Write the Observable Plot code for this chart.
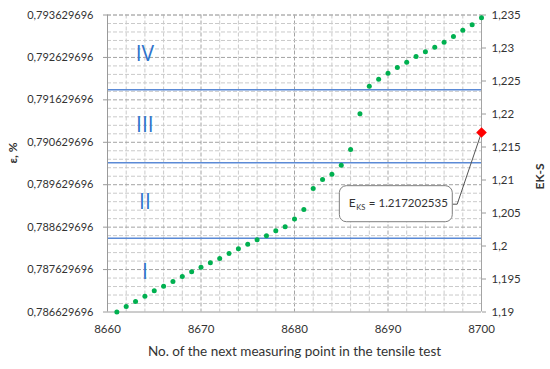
<!DOCTYPE html>
<html>
<head>
<meta charset="utf-8">
<script src="https://cdn.jsdelivr.net/npm/d3@7"></script>
<script src="https://cdn.jsdelivr.net/npm/@observablehq/plot@0.6"></script>
<style>
  html, body { margin: 0; padding: 0; background: #fff; }
  #chart { width: 550px; height: 369px; }
  svg { font-family: Lato, "Liberation Sans", sans-serif; }
</style>
</head>
<body>
<div id="chart"></div>
<script>
// ---- data ----
const points = [8661,8662,8663,8664,8665,8666,8667,8668,8669,8670,
                8671,8672,8673,8674,8675,8676,8677,8678,8679,8680,
                8681,8682,8683,8684,8685,8686,8687,8688,8689,8690,
                8691,8692,8693,8694,8695,8696,8697,8698,8699,8700];
const epsilon = [0.786630,0.786759,0.786877,0.787002,0.787129,0.787238,0.787348,0.787466,0.787577,0.787685,
                 0.787789,0.787891,0.788008,0.788119,0.788228,0.788331,0.788426,0.788543,0.788638,0.788821,
                 0.789045,0.789540,0.789752,0.789877,0.790089,0.790459,0.791301,0.791951,0.792116,0.792258,
                 0.792392,0.792517,0.792651,0.792762,0.792870,0.792988,0.793123,0.793271,0.793398,0.793564];
const leftTicks = [0.786629696,0.787629696,0.788629696,0.789629696,0.790629696,0.791629696,0.792629696,0.793629696];
const rightTicks = [1.19,1.195,1.2,1.205,1.21,1.215,1.22,1.225,1.23,1.235];
const xTicks = [8660,8670,8680,8690,8700];
const zoneBounds = [0.788369,0.790146,0.791867];
const zoneLabels = ["I","II","III","IV"];
const zoneLabelY = [0.787568,0.789218,0.791025,0.792699];
const zoneLabelX = 8664;
const eksPoint = 8700;
const eksValue = 1.217202535;
const xLabel = "No. of the next measuring point in the tensile test";
const yLeftLabel = "ε, %";
const yRightLabel = "EK-S";

// ---- the right axis shares the frame with the left axis ----
const L0 = leftTicks[0], L1 = leftTicks[leftTicks.length - 1];
const R0 = rightTicks[0], R1 = rightTicks[rightTicks.length - 1];
const toLeft = r => L0 + (r - R0) / (R1 - R0) * (L1 - L0);
const fromLeft = l => R0 + (l - L0) / (L1 - L0) * (R1 - R0);
const commaFmt = (v, digits) => (+v.toFixed(digits)).toString().replace(".", ",");

const data = points.map((p, i) => ({x: p, y: epsilon[i]}));
const eksY = toLeft(eksValue);

// grid lines
const gridXMinor = d3.range(8662, 8700, 2).filter(v => v % 10 !== 0);
const gridXMajor = xTicks.slice(1, -1);
const gridYAll = d3.range(1, 36).map(i => L0 + i * 0.0002);
const gridYMajor = gridYAll.filter((v, i) => (i + 1) % 5 === 0);
const gridYMinor = gridYAll.filter((v, i) => (i + 1) % 5 !== 0);

// callout box (data coordinates)
const box = {x1: 8684.85, x2: 8696.93, y1: 0.788746, y2: 0.789595};
const boxMidY = (box.y1 + box.y2) / 2;
const leader = [{x: box.x2, y: boxMidY}, {x: 8697.4, y: boxMidY}, {x: eksPoint, y: eksY}];

const blue = "#5b8ad6";
const plot = Plot.plot({
  width: 550,
  height: 369,
  marginLeft: 107,
  marginRight: 69,
  marginTop: 14.5,
  marginBottom: 57.5,
  style: {fontFamily: "Lato, 'Liberation Sans', sans-serif", fontSize: "11px", color: "#333", background: "#fff"},
  x: {domain: [8660, 8700], axis: null},
  y: {domain: [L0, L1], axis: null},
  marks: [
    Plot.ruleX(gridXMinor, {stroke: "#cacaca", strokeDasharray: "4,2", strokeWidth: 1}),
    Plot.ruleX(gridXMajor, {stroke: "#a4a4a4", strokeDasharray: "4,2", strokeWidth: 1}),
    Plot.ruleY(gridYMinor, {stroke: "#cacaca", strokeDasharray: "4,2", strokeWidth: 1}),
    Plot.ruleY(gridYMajor, {stroke: "#a4a4a4", strokeDasharray: "4,2", strokeWidth: 1}),
    Plot.ruleY([L1], {stroke: "#b8b8b8", strokeDasharray: "4,2"}),
    Plot.ruleX([8700], {stroke: "#a4a4a4"}),
    Plot.ruleY(zoneBounds, {stroke: blue, strokeWidth: 1.4}),
    Plot.ruleX([8660], {stroke: "#9a9a9a"}),
    Plot.ruleY([L0], {stroke: "#9a9a9a"}),
    Plot.axisX(xTicks, {anchor: "bottom", tickSize: 0, tickPadding: 13, fontSize: 11.5, label: null, tickFormat: d => String(d)}),
    Plot.axisY(leftTicks, {anchor: "left", tickSize: 4, tickPadding: 10, fontSize: 11, label: null, stroke: "#9a9a9a",
      tickFormat: d => d.toFixed(9).replace(".", ",")}),
    Plot.axisY(rightTicks.map(toLeft), {anchor: "right", tickSize: 4, tickPadding: 6, fontSize: 11.5, label: null, stroke: "#9a9a9a",
      tickFormat: d => commaFmt(fromLeft(d), 3)}),
    Plot.text(zoneLabels, {x: () => zoneLabelX, y: (d, i) => zoneLabelY[i], text: d => d, fill: "#2e73cc", fontSize: 21, fontWeight: "normal", fontFamily: "'Open Sans', Lato, sans-serif"}),
    Plot.dot(data, {x: "x", y: "y", r: 2.5, fill: "#00b050", stroke: "none"}),
    Plot.line(leader, {x: "x", y: "y", stroke: "#555", strokeWidth: 1, curve: "linear"}),
    Plot.rect([box], {x1: "x1", x2: "x2", y1: "y1", y2: "y2", fill: "white", stroke: "#7f7f7f", strokeWidth: 1, rx: 7}),
    Plot.text(["E"], {x: () => box.x1, y: () => boxMidY, textAnchor: "start", dx: 9, dy: -1, fontSize: 12, fill: "#333"}),
    Plot.text(["KS"], {x: () => box.x1, y: () => boxMidY, textAnchor: "start", dx: 16.5, dy: 3, fontSize: 7.5, fill: "#333"}),
    Plot.text(["= 1.217202535"], {x: () => box.x1, y: () => boxMidY, textAnchor: "start", dx: 29, dy: -1, fontSize: 11.5, fill: "#333"}),
    Plot.dot([eksValue], {x: () => eksPoint, y: d => toLeft(d), symbol: "diamond2", r: 4.8, fill: "#ff0000", stroke: "none"}),
    Plot.text([xLabel], {frameAnchor: "bottom", dy: 44, fontSize: 13.5, fill: "#333"}),
    Plot.text([yLeftLabel], {frameAnchor: "left", dx: -94, rotate: -90, fontSize: 12, fontWeight: "bold", fill: "#333"}),
    Plot.text([yRightLabel], {frameAnchor: "right", dx: 59, rotate: -90, fontSize: 12, fontWeight: "bold", fill: "#333"})
  ]
});
document.getElementById("chart").appendChild(plot);
</script>
</body>
</html>
